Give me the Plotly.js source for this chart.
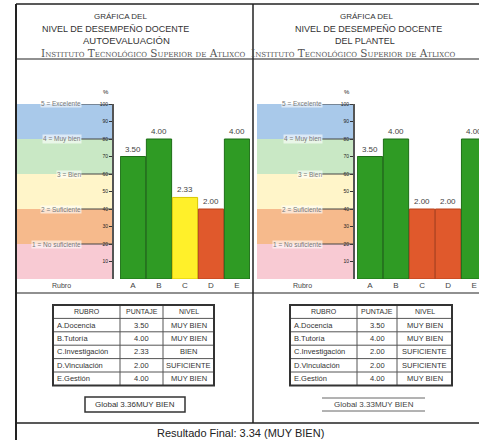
<!DOCTYPE html>
<html><head><meta charset="utf-8">
<script src="https://cdn.plot.ly/plotly-3.0.1.min.js"></script>
<style>html,body{margin:0;padding:0;background:#fff}#c{width:479px;height:440px}</style>
</head><body><div id="c"></div>
<script>
// ---- data ----
var categories = ['A','B','C','D','E'];
var rubros = ['A.Docencia','B.Tutoría','C.Investigación','D.Vinculación','E.Gestión'];
var autoScores = [3.50, 4.00, 2.33, 2.00, 4.00];
var autoLevels = ['MUY BIEN','MUY BIEN','BIEN','SUFICIENTE','MUY BIEN'];
var plantelScores = [3.50, 4.00, 2.00, 2.00, 4.00];
var plantelLevels = ['MUY BIEN','MUY BIEN','SUFICIENTE','SUFICIENTE','MUY BIEN'];
var globalAuto = '3.36';
var globalPlantel = '3.33';
var globalLevel = 'MUY BIEN';
var finalResult = 'Resultado Final: 3.34 (MUY BIEN)';
var bandLevels = [1,2,3,4,5];
var bandLabels = ['1 = No suficiente','2 = Suficiente','3 = Bien','4 = Muy bien','5 = Excelente'];
var pctTickVals = [0.5,1,1.5,2,2.5,3,3.5,4,4.5,5];
var pctTickText = ['10','20','30','40','50','60','70','80','90','100'];
var tableHeader = ['RUBRO','PUNTAJE','NIVEL'];

// ---- styles ----
var W=479,H=440;
function X(p){return p/W;}
function Y(p){return 1-p/H;}
var levelColor = {'MUY BIEN':'#2f9b24','BIEN':'#fff02a','SUFICIENTE':'#e0592c'};
var levelEdge = {'MUY BIEN':'#1d6e16','BIEN':'#d8c800','SUFICIENTE':'#b8421c'};
var bandColors = ['#f8cad3','#f6ba8c','#fff5c9','#c9e8c5','#a9c9ea'];

function barTrace(scores, levels, xa, ya){
  return {type:'bar', x:categories, y:scores, xaxis:xa, yaxis:ya,
    marker:{color:levels.map(function(l){return levelColor[l];}),
            line:{color:levels.map(function(l){return levelEdge[l];}),width:1}},
    width:0.97, text:scores.map(function(v){return v.toFixed(2);}),
    textposition:'outside', textfont:{size:8,color:'#444',family:'Liberation Sans'},
    hoverinfo:'skip', showlegend:false};
}
var data = [
  barTrace(autoScores, autoLevels, 'x','y'),
  barTrace(plantelScores, plantelLevels, 'x2','y2')
];

var shapes=[], annotations=[];
function line(x0,y0,x1,y1,w,c){shapes.push({type:'line',xref:'paper',yref:'paper',x0:X(x0),x1:X(x1),y0:Y(y0),y1:Y(y1),line:{color:c||'#222',width:w||1}});}
function rect(x0,y0,x1,y1,w,c){shapes.push({type:'rect',xref:'paper',yref:'paper',x0:X(x0),x1:X(x1),y0:Y(y0),y1:Y(y1),line:{color:c||'#222',width:w||1}});}
function txt(x,y,s,size,opts){opts=opts||{};annotations.push({xref:'paper',yref:'paper',x:X(x),y:Y(y),text:s,showarrow:false,
  font:{size:size,color:opts.color||'#333',family:opts.family||'Liberation Sans',variant:opts.variant||'normal'},
  xanchor:opts.xanchor||'center',yanchor:'middle'});}

// bands for both panels
[[16,112,'y'],[257,353,'y2']].forEach(function(p){
  bandLevels.forEach(function(l,i){
    shapes.push({type:'rect',xref:'paper',yref:p[2],x0:X(p[0]),x1:X(p[1]),y0:l-1,y1:l,
      fillcolor:bandColors[i],line:{width:0},layer:'below'});
    shapes.push({type:'line',xref:'paper',yref:p[2],x0:X(p[0]+65),x1:X(p[1]),y0:l,y1:l,line:{color:'#444',width:1}});
    annotations.push({xref:'paper',yref:p[2],x:X(p[0]+66),y:l,xanchor:'right',yanchor:'middle',
      text:bandLabels[i],showarrow:false,bgcolor:'rgba(255,255,255,0.6)',borderpad:0,
      font:{size:6.5,color:'#777',family:'Liberation Sans'}});
  });
  txt(p[1]-6,92,'%',6,{color:'#222'});
  txt((p[0]+p[1])/2-3,285,'Rubro',7,{color:'#444'});
});

// frame
line(16,4,479,4,1.5);
line(16,4,16,440,2);
line(253,4,253,423,1.5);
line(16,59,479,59,1.2);
line(16,293,479,293,1.2);
line(16,423,479,423,1.5);

// titles
var tf='Liberation Sans';
txt(121,17,'GRÁFICA DEL',8,{family:tf});
txt(115,29,'NIVEL DE DESEMPEÑO DOCENTE',9,{family:tf});
txt(126,41,'AUTOEVALUACIÓN',9.5,{family:tf});
txt(248,53,'Instituto Tecnológico Superior de Atlixco',10.5,{family:'DejaVu Serif',variant:'small-caps',xanchor:'right',color:'#555'});
txt(366,17,'GRÁFICA DEL',8,{family:tf});
txt(368,29,'NIVEL DE DESEMPEÑO DOCENTE',9,{family:tf});
txt(365,41,'DEL PLANTEL',9,{family:tf});
txt(249,53,'Instituto Tecnológico Superior de Atlixco',10.5,{family:'DejaVu Serif',variant:'small-caps',xanchor:'left',color:'#555'});

// tables drawn from the arrays
function table(cols, scores, levels){
  var top=305, rh=13.4, n=rubros.length+1, bottom=top+rh*n;
  for(var r=1;r<n;r++) line(cols[0],top+rh*r,cols[3],top+rh*r,1,'#555');
  line(cols[1],top,cols[1],bottom,1,'#555');
  line(cols[2],top,cols[2],bottom,1,'#555');
  rect(cols[0],top,cols[3],bottom,2,'#333');
  tableHeader.forEach(function(h,c){txt((cols[c]+cols[c+1])/2,top+rh/2,h,7,{color:'#333'});});
  rubros.forEach(function(rb,i){
    var yc=top+rh*(i+1.5);
    txt(cols[0]+1.5,yc,rb,7.5,{xanchor:'left',color:'#333'});
    txt((cols[1]+cols[2])/2,yc,scores[i].toFixed(2),7.5,{color:'#333'});
    txt((cols[2]+cols[3])/2,yc,levels[i],7.5,{color:'#333'});
  });
}
table([53,120,163,214], autoScores, autoLevels);
table([290,357,397,452], plantelScores, plantelLevels);

// global boxes
rect(85,397,185,412,1.5,'#333');
txt(135,404.5,'Global '+globalAuto+globalLevel,8,{color:'#333'});
line(322,398,425,398,1,'#666');
line(322,411,425,411,1,'#666');
txt(373.5,404.5,'Global '+globalPlantel+globalLevel,8,{color:'#444'});
txt(240,433,finalResult,11,{color:'#222'});

var yaxisBase={domain:[Y(279),Y(104)],range:[0,5],anchor:'free',showline:true,linecolor:'#555',linewidth:2,
  ticks:'outside',ticklen:3,tickcolor:'#333',tickvals:pctTickVals,ticktext:pctTickText,
  tickfont:{size:5,color:'#222',family:'Liberation Sans'},showgrid:false,zeroline:false,fixedrange:true};
var xaxisBase={tickfont:{size:8,color:'#444',family:'Liberation Sans'},showgrid:false,zeroline:false,showline:false,ticks:'',fixedrange:true};

var layout={width:W,height:H,margin:{l:0,r:0,t:0,b:0},paper_bgcolor:'#fff',plot_bgcolor:'rgba(0,0,0,0)',
  bargap:0.03, showlegend:false,
  xaxis:Object.assign({},xaxisBase,{domain:[X(120),X(250)],range:[-0.5,4.5],anchor:'y'}),
  yaxis:Object.assign({},yaxisBase,{position:X(113)}),
  xaxis2:Object.assign({},xaxisBase,{domain:[X(357),1],range:[-0.5,4.19],anchor:'y2'}),
  yaxis2:Object.assign({},yaxisBase,{position:X(354)}),
  shapes:shapes, annotations:annotations};

Plotly.newPlot('c',data,layout,{staticPlot:true,displayModeBar:false});
</script></body></html>
